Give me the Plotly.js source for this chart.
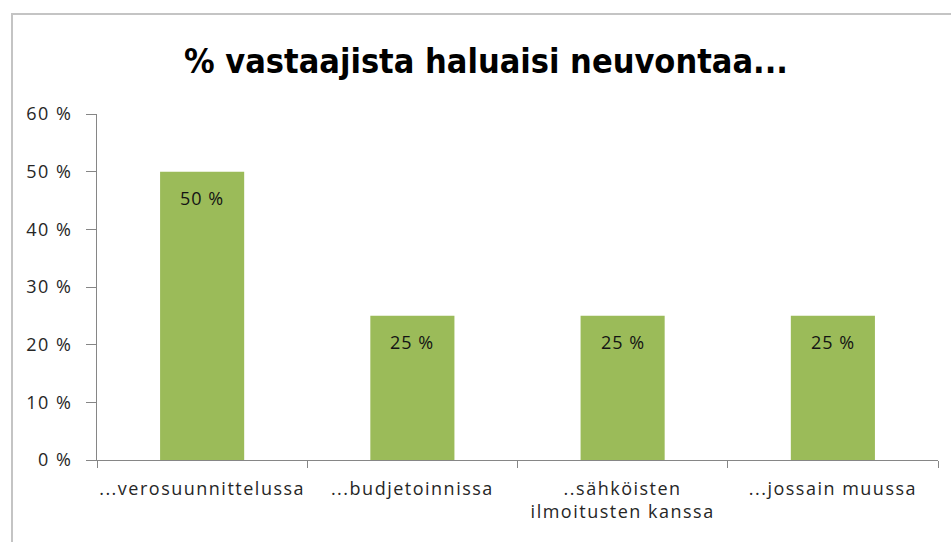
<!DOCTYPE html>
<html>
<head>
<meta charset="utf-8">
<script src="https://cdn.plot.ly/plotly-3.0.1.min.js"></script>
<style>
html,body{margin:0;padding:0;background:#fff;}
#chart{width:951px;height:542px;}
#chart .xtick text, #chart .ytick text { letter-spacing: 1.5px; }
#chart .annotation-text { letter-spacing: 1px; }
</style>
</head>
<body>
<div id="chart"></div>
<script>
const categories = ["...verosuunnittelussa", "...budjetoinnissa", "..sähköisten<br>ilmoitusten kanssa", "...jossain muussa"];
const values = [50, 25, 25, 25];
const labels = ["50 %", "25 %", "25 %", "25 %"];
const yTicks = [0, 10, 20, 30, 40, 50, 60];
const yTickText = ["0 %", "10 %", "20 %", "30 %", "40 %", "50 %", "60 %"];

const FONT = "'Open Sans', sans-serif";
const TITLE_FONT = "'Liberation Sans Narrow', 'DejaVu Sans Condensed', 'Open Sans', sans-serif";

const trace = {
  type: "bar",
  x: categories,
  y: values,
  marker: {color: "#9bbb59"},
  width: 0.4,
  hoverinfo: "none"
};

const annotations = categories.map((c, i) => ({
  x: c, y: values[i], xref: "x", yref: "y",
  text: labels[i], showarrow: false, yshift: -26,
  font: {family: FONT, size: 18, color: "#141414"}
}));

const layout = {
  width: 951, height: 542,
  margin: {l: 97, r: 13, t: 114, b: 82},
  paper_bgcolor: "#fff", plot_bgcolor: "#fff",
  showlegend: false,
  title: {
    text: "<b>% vastaajista haluaisi neuvontaa...</b>",
    font: {family: TITLE_FONT, size: 34, color: "#000"},
    xref: "container", yref: "container",
    x: 0.511, y: 1 - 61/542, xanchor: "center", yanchor: "middle"
  },
  xaxis: {
    showgrid: false, zeroline: false,
    showline: true, linecolor: "#868686", linewidth: 1,
    ticks: "outside", tickson: "boundaries", ticklen: 7, tickcolor: "#868686",
    ticklabelstandoff: 12,
    tickfont: {family: FONT, size: 18, color: "#262626"},
    fixedrange: true
  },
  yaxis: {
    range: [0, 60],
    tickvals: yTicks, ticktext: yTickText,
    showgrid: false, zeroline: false,
    showline: true, linecolor: "#868686", linewidth: 1,
    ticks: "outside", ticklen: 10, tickcolor: "#868686",
    ticklabelstandoff: 10,
    tickfont: {family: FONT, size: 18, color: "#262626"},
    fixedrange: true
  },
  annotations: annotations,
  shapes: [{
    type: "rect", xref: "paper", yref: "paper",
    x0: (12 - 97) / 841, x1: 1.2, y0: -0.5, y1: (460 - 14) / 346,
    line: {color: "#c4c4c4", width: 2}, fillcolor: "rgba(0,0,0,0)", layer: "below"
  }]
};

Plotly.newPlot("chart", [trace], layout, {displayModeBar: false, staticPlot: true});
</script>
</body>
</html>
